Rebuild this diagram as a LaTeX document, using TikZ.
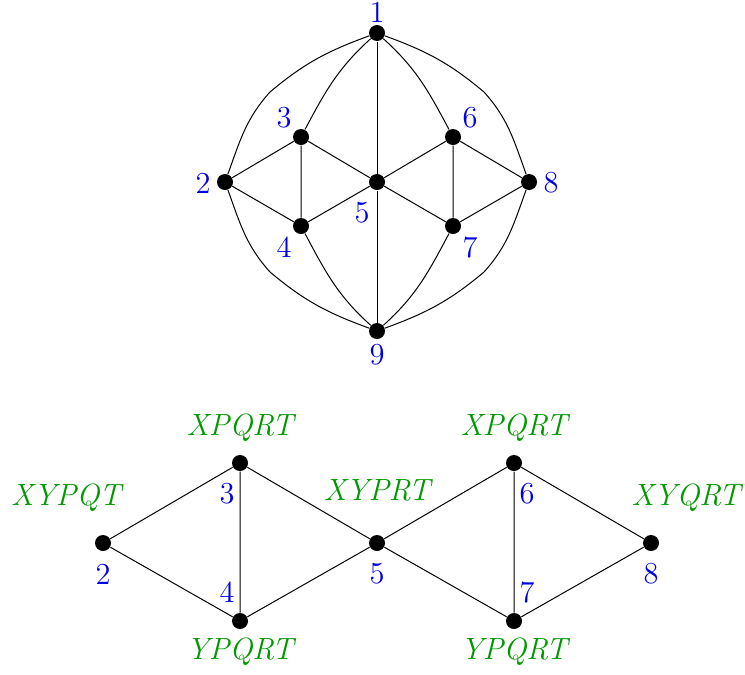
\documentclass[tikz,border=0pt]{standalone}
\begin{document}
\begin{tikzpicture}[x=0.4pt,y=0.4pt,
  dot/.style={circle,fill=black,inner sep=0pt,minimum size=6.4pt},
  num/.style={text=blue!90!black,font=\fontsize{12.2}{14}\selectfont},
  set/.style={text=green!60!black,font=\fontsize{12.3}{14}\selectfont\itshape}]
\useasboundingbox (0,0) rectangle (745,-674);
% top graph
\node[dot] (t1) at (377,-33) {};
\node[dot] (t2) at (225,-182) {};
\node[dot] (t3) at (301,-137) {};
\node[dot] (t4) at (301,-226) {};
\node[dot] (t5) at (377,-182) {};
\node[dot] (t6) at (453,-137) {};
\node[dot] (t7) at (453,-226) {};
\node[dot] (t8) at (529,-182) {};
\node[dot] (t9) at (377,-331) {};
\coordinate (c12) at (270,-92);
\coordinate (c18) at (484,-92);
\coordinate (c92) at (270,-272);
\coordinate (c98) at (484,-272);
\node[num] (lt1) at (377,-12) {1};
\node[num] (lt2) at (203,-183) {2};
\node[num] (lt3) at (284,-118) {3};
\node[num] (lt4) at (284,-247) {4};
\node[num] (lt5) at (362,-213) {5};
\node[num] (lt6) at (470,-118) {6};
\node[num] (lt7) at (470,-248) {7};
\node[num] (lt8) at (551,-183) {8};
\node[num] (lt9) at (377,-355) {9};
\draw (t1) to[out=200,in=40] (c12) to[out=228,in=70] (t2);
\draw (t1) to[out=222,in=62] (t3);
\draw (t1) -- (t5);
\draw (t1) to[out=-42,in=118] (t6);
\draw (t1) to[out=-20,in=140] (c18) to[out=-48,in=110] (t8);
\draw (t9) to[out=160,in=-40] (c92) to[out=132,in=-70] (t2);
\draw (t9) to[out=138,in=-62] (t4);
\draw (t9) -- (t5);
\draw (t9) to[out=42,in=-118] (t7);
\draw (t9) to[out=20,in=-140] (c98) to[out=48,in=-110] (t8);
\draw (t2) -- (t3) -- (t4) -- (t2);
\draw (t3) -- (t5) -- (t4);
\draw (t6) -- (t5) -- (t7);
\draw (t6) -- (t7) -- (t8) -- (t6);
% bottom graph
\node[dot] (b2) at (103,-543) {};
\node[dot] (b3) at (240,-463) {};
\node[dot] (b4) at (240,-621) {};
\node[dot] (b5) at (377,-543) {};
\node[dot] (b6) at (514,-463) {};
\node[dot] (b7) at (514,-621) {};
\node[dot] (b8) at (651,-543) {};
\node[num] (lb2) at (103,-574) {2};
\node[num] (lb3) at (227,-494) {3};
\node[num] (lb4) at (227,-592) {4};
\node[num] (lb5) at (377,-574) {5};
\node[num] (lb6) at (527,-494) {6};
\node[num] (lb7) at (527,-592) {7};
\node[num] (lb8) at (651,-574) {8};
\node[set] (s2) at (66,-498) {XYPQT};
\node[set] (s3) at (240,-428) {XPQRT};
\node[set] (s4) at (240,-652) {YPQRT};
\node[set] (s5) at (377,-490) {XYPRT};
\node[set] (s6) at (514,-428) {XPQRT};
\node[set] (s7) at (514,-652) {YPQRT};
\node[set] (s8) at (686,-498) {XYQRT};
\draw (b2) -- (b3) -- (b4) -- (b2);
\draw (b3) -- (b5) -- (b4);
\draw (b6) -- (b5) -- (b7);
\draw (b6) -- (b7) -- (b8) -- (b6);
\end{tikzpicture}
\end{document}
